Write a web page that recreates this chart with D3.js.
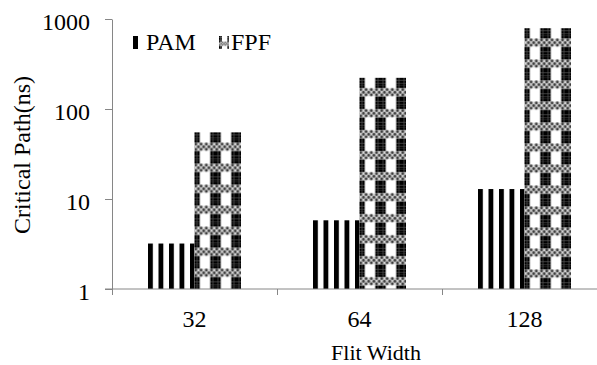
<!DOCTYPE html>
<html>
<head>
<meta charset="utf-8">
<script src="https://cdn.jsdelivr.net/npm/d3@7"></script>
<style>
  body { margin: 0; background: #fff; }
  text { font-family: "Liberation Serif", "Times New Roman", serif; fill: #000; }
</style>
</head>
<body>
<svg id="chart" width="597" height="365"></svg>
<script>
// data
const categories = ["32", "64", "128"];
const seriesNames = ["PAM", "FPF"];
const pamValues = [3.2, 5.8, 12.9];
const fpfValues = [55, 222, 790];
const yTicks = [1, 10, 100, 1000];

const axisColor = "#868686";
const u = 2.625; // one cell of the fill pattern

const svg = d3.select("#chart");
const defs = svg.append("defs");

// category axis runs off the right edge, like the source image
const x0 = d3.scaleBand().domain(categories).range([112, 607]).padding(0);
const x1 = d3.scaleBand().domain(seriesNames)
  .range([0, x0.bandwidth()])
  .paddingInner(0)
  .paddingOuter(0.774);
const y = d3.scaleLog().domain([1, 1000]).range([289, 19]);

const bars = [];
categories.forEach((c, i) => {
  bars.push({ cat: c, series: "PAM", value: pamValues[i], idx: i });
  bars.push({ cat: c, series: "FPF", value: fpfValues[i], idx: i });
});

// vertical stripes
function pamPattern(id, px, py) {
  const p = defs.append("pattern").attr("id", id)
    .attr("patternUnits", "userSpaceOnUse")
    .attr("x", px).attr("y", py)
    .attr("width", 4 * u).attr("height", 4 * u);
  p.append("rect").attr("width", 4 * u).attr("height", 4 * u).attr("fill", "#fff");
  p.append("rect").attr("width", 2 * u - 0.4).attr("height", 4 * u).attr("fill", "#000");
}

// checker blocks with a dotted band
function fpfPattern(id, px, py, s) {
  const p = defs.append("pattern").attr("id", id)
    .attr("patternUnits", "userSpaceOnUse")
    .attr("x", px).attr("y", py)
    .attr("width", 8 * s).attr("height", 8 * s);
  p.append("rect").attr("width", 8 * s).attr("height", 8 * s).attr("fill", "#fff");
  const blockRows = [7, 0, 1, 2, 3];
  const blackCols = [0, 1, 6, 7];
  blockRows.forEach(r => {
    blackCols.forEach(cc => {
      p.append("rect").attr("x", cc * s).attr("y", r * s)
        .attr("width", s).attr("height", s).attr("fill", "#000");
    });
  });
  p.append("rect").attr("x", 0).attr("y", 4 * s)
    .attr("width", 8 * s).attr("height", 3 * s).attr("fill", "#d8d8d8");
  [4, 5, 6].forEach(r => {
    for (let cc = 0; cc < 9; cc++) {
      if ((r + cc) % 2 === 0) {
        p.append("circle").attr("cx", cc * s + s / 2).attr("cy", r * s + s / 2)
          .attr("r", s * 0.55).attr("fill", "#3a3a3a");
      }
    }
  });
}

bars.forEach(d => {
  const bx = x0(d.cat) + x1(d.series);
  const by = y(d.value);
  d.pid = "pat-" + d.series + "-" + d.idx;
  if (d.series === "PAM") pamPattern(d.pid, bx, by);
  else fpfPattern(d.pid, bx, by, u);
});

svg.append("g").selectAll("rect")
  .data(bars)
  .join("rect")
  .attr("x", d => x0(d.cat) + x1(d.series))
  .attr("y", d => y(d.value))
  .attr("width", x1.bandwidth())
  .attr("height", d => y(1) - y(d.value))
  .attr("fill", d => "url(#" + d.pid + ")");

// y axis
const yAxis = svg.append("g")
  .attr("transform", "translate(112,0)")
  .call(d3.axisLeft(y).tickValues(yTicks).tickFormat(d3.format("d")).tickSize(7).tickSizeOuter(0));
yAxis.attr("font-family", null);
yAxis.select(".domain").attr("stroke", axisColor);
yAxis.selectAll(".tick line").attr("stroke", axisColor);
yAxis.selectAll(".tick text")
  .attr("x", -22).attr("dy", "0.42em")
  .style("font-size", "24px").attr("fill", "#000");

// x axis, ticks sit between categories
const xAxis = svg.append("g")
  .attr("transform", "translate(0,289)");
xAxis.append("line")
  .attr("x1", x0.range()[0]).attr("x2", x0.range()[1])
  .attr("stroke", axisColor);
xAxis.selectAll(".xtick")
  .data(categories)
  .join("line")
  .attr("x1", d => x0(d) + 0.5).attr("x2", d => x0(d) + 0.5)
  .attr("y1", 0).attr("y2", 6)
  .attr("stroke", axisColor);
xAxis.append("line")
  .attr("x1", 105).attr("x2", 112).attr("stroke", axisColor);
xAxis.selectAll(".xlabel")
  .data(categories)
  .join("text")
  .attr("x", d => x0(d) + x0.bandwidth() / 2)
  .attr("y", 38)
  .attr("text-anchor", "middle")
  .style("font-size", "24px")
  .text(d => d);

// axis titles
svg.append("text")
  .attr("x", 376).attr("y", 360)
  .attr("text-anchor", "middle")
  .style("font-size", "22px")
  .text("Flit Width");

svg.append("text")
  .attr("transform", "translate(30,155) rotate(-90)")
  .attr("text-anchor", "middle")
  .style("font-size", "24px")
  .text("Critical Path(ns)");

// legend
const legend = svg.append("g");
fpfPattern("leg-fpf", 219, 36, 1.4);
legend.append("rect").attr("x", 133).attr("y", 36).attr("width", 5).attr("height", 13).attr("fill", "#000");
legend.append("rect").attr("x", 219).attr("y", 36).attr("width", 10).attr("height", 13).attr("fill", "url(#leg-fpf)");
legend.append("text").attr("x", 146).attr("y", 50).style("font-size", "24px").text(seriesNames[0]);
legend.append("text").attr("x", 231).attr("y", 50).style("font-size", "24px").text(seriesNames[1]);
</script>
</body>
</html>
